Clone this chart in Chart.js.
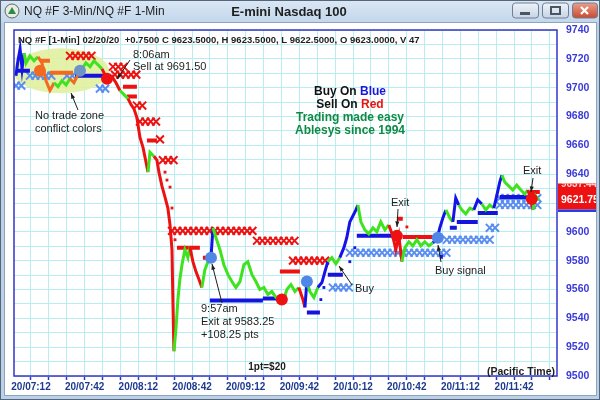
<!DOCTYPE html>
<html>
<head>
<meta charset="utf-8">
<script src="https://cdn.jsdelivr.net/npm/chart.js@4.4.1/dist/chart.umd.min.js"></script>
<style>
html, body { margin: 0; padding: 0; background: #fff; }
canvas { display: block; }
</style>
</head>
<body>
<canvas id="chart" width="600" height="400"></canvas>
<script>
// x = minutes after 07:12, y = price

// 1-min price path, colour code per point (b = blue, r = red, g = green, o = conflict)
const priceTime = [
  -8.4, -7.3, -6.1, -5.0, -3.9,
  -2.8, -0.6, 1.7, 3.9,
  6.1, 8.4, 10.6, 12.9,
  15.1, 17.3, 19.6, 21.8,
  24.0, 26.3,
  28.5, 30.7, 33.0, 35.2, 37.4, 39.7,
  41.3, 43.0, 45.3, 47.5, 49.7,
  52.0, 54.2,
  55.9, 57.5, 59.2, 60.9, 62.6, 64.3, 65.4,
  66.5, 68.7,
  70.4, 71.5, 73.2, 74.9, 76.5, 77.7, 78.8, 79.3, 79.9,
  81.0, 82.1, 83.2, 84.4, 86.0, 87.7, 88.8,
  90.5, 92.2, 93.9, 95.5,
  97.2, 98.9,
  100.6, 101.7,
  103.4, 105.6, 107.8, 110.1, 112.3, 114.5, 116.8, 119.0, 121.2, 123.5, 125.7, 127.9, 130.2, 132.4, 134.6, 136.9, 139.1,
  140.8,
  143.0, 145.3, 147.5, 149.7,
  152.0, 153.1,
  154.2,
  155.9, 158.1, 160.3,
  162.6, 164.3, 165.9,
  168.2, 170.4, 172.6,
  174.9, 176.5, 178.2, 179.9, 181.6, 182.7,
  184.4, 186.6, 188.8, 191.1, 193.3, 195.5, 197.8, 200.0,
  202.2, 203.9, 205.6, 207.3,
  209.0, 211.2, 213.4, 215.7, 217.9, 220.1, 222.4, 224.6,
  226.8, 228.5, 230.2, 231.9,
  234.1, 235.8,
  237.4, 239.1,
  240.8, 243.0, 245.3, 247.5,
  249.7, 252.0,
  254.2, 256.4, 258.7,
  260.4, 262.0, 263.2,
  264.8, 267.1, 269.3, 271.5, 273.8, 276.0, 277.7,
  279.3, 280.5,
  282.1, 283.8
];
const priceValue = [
  9708.3, 9718.6, 9726.9, 9713.0, 9724.0,
  9717.0, 9722.0, 9718.6, 9721.4,
  9717.2, 9704.8, 9698.0, 9703.4,
  9700.7, 9704.8, 9702.0, 9706.2,
  9703.4, 9709.0,
  9713.0, 9717.2, 9714.5, 9718.6, 9715.9, 9713.0,
  9709.0, 9704.8, 9707.6, 9703.4, 9698.0,
  9695.2, 9692.4,
  9688.3, 9685.5, 9679.3, 9665.5, 9658.6, 9648.3, 9641.4,
  9655.2, 9652.4,
  9649.7, 9641.4, 9631.7, 9624.1, 9616.5, 9604.8, 9587.6, 9553.0, 9517.2,
  9532.4, 9553.0, 9566.9, 9577.2, 9587.6, 9582.1, 9589.6,
  9579.3, 9572.4, 9566.9, 9561.4,
  9573.8, 9579.3,
  9582.1, 9602.8,
  9595.9, 9587.6, 9577.2, 9570.3, 9565.5, 9561.4, 9565.5, 9577.2, 9579.3, 9570.3, 9565.5, 9560.0, 9561.4, 9556.5, 9558.6, 9554.5, 9553.0,
  9551.0,
  9560.0, 9563.4, 9558.6, 9561.4,
  9553.0, 9547.6,
  9565.5,
  9558.6, 9554.5, 9561.4,
  9564.8, 9572.4, 9579.3,
  9582.1, 9577.9, 9582.1,
  9589.0, 9595.9, 9606.9, 9611.0, 9615.2, 9618.6,
  9606.9, 9601.4, 9598.6, 9602.8, 9600.0, 9606.9, 9601.4, 9604.8,
  9597.2, 9587.6, 9597.2, 9579.3,
  9589.0, 9593.1, 9590.3, 9594.5, 9590.3, 9593.1, 9590.3, 9592.4,
  9594.5, 9602.8, 9609.6, 9615.2,
  9609.6, 9606.9,
  9623.4, 9618.6,
  9615.2, 9612.4, 9616.5, 9615.2,
  9622.1, 9619.3,
  9615.2, 9618.6, 9616.5,
  9625.5, 9634.5, 9639.3,
  9634.5, 9631.7, 9629.0, 9632.4, 9629.0, 9626.2, 9629.0,
  9623.4, 9615.2,
  9624.8, 9622.1
];
const priceColor = ('bbbbb gggg oooo gggg oo gggggg rrrrr gg rrrrrrr gg rrrrrrrrr ggggggg rrrr gg bb ' +
  'ggggggggggggggggg r gggg rr b ggg bbb ggg bbbbbb gggggggg rrrr gggggggg bbbb gg bb gggg bb ggg bbb ggggggg rr gg')
  .replace(/ /g, '').split('');

// stop levels drawn as X rows (3-min bars): [from, to, level]
const sellStopRows = [
  [21.8, 34.6, 9722.1], [45.8, 52.5, 9714.5], [46.9, 59.2, 9709.0], [59.2, 62.6, 9687.6],
  [60.9, 72.1, 9676.5], [72.1, 72.1, 9664.1], [73.7, 81.6, 9649.7], [78.8, 126.3, 9600.7],
  [126.3, 149.2, 9593.8], [146.4, 167.1, 9580.0]
];
const buyStopRows = [
  [-8.4, -3.9, 9701.4], [-0.6, 12.3, 9708.3], [20.1, 23.5, 9708.3], [38.5, 44.1, 9699.3],
  [168.7, 179.3, 9561.4], [178.2, 232.4, 9585.5], [232.4, 256.4, 9594.5], [256.4, 262.0, 9602.8],
  [262.0, 284.4, 9623.4], [262.0, 284.4, 9618.6]
];

// trailing stop dashes: [from, to, level]
const sellLines = [
  [51.4, 59.2, 9700.7], [53.6, 59.2, 9693.8], [64.8, 70.4, 9663.4], [81.6, 94.4, 9588.9],
  [96.1, 98.3, 9582.1], [139.1, 150.3, 9572.4], [204.5, 207.8, 9609.0], [207.8, 224.6, 9596.5],
  [278.8, 284.4, 9627.6]
];
const buyLines = [
  [-7.8, -0.6, 9711.7], [24.6, 42.5, 9708.3], [100.0, 129.6, 9552.4], [129.6, 139.1, 9553.8],
  [154.2, 161.5, 9544.1], [165.9, 174.3, 9570.3], [182.1, 204.5, 9597.2], [228.5, 230.2, 9582.7],
  [234.1, 238.0, 9602.8], [238.0, 249.7, 9606.9], [249.7, 260.9, 9613.1], [262.0, 277.1, 9624.1]
];
const conflictLines = [[5.0, 10.6, 9718.6], [10.6, 23.5, 9710.3]];

const sellDots = [[74.9, 9641.4], [76.0, 9635.9], [77.7, 9631.0], [78.8, 9616.5], [80.5, 9594.5], [210.1, 9603.4]];
const buyDots = [[162.0, 9553.0], [163.7, 9561.4], [178.2, 9579.3], [181.0, 9589.0]];

// signal circles
const signalTime = [5.0, 27.4, 42.5, 100.6, 140.2, 154.2, 204.5, 227.4, 279.9];
const signalPrice = [9711.7, 9711.7, 9706.2, 9582.1, 9553.0, 9565.5, 9597.2, 9595.9, 9622.8];
const signalColor = ['#f26a22', '#6d93c8', '#ee1111', '#4f86e8', '#ee1111', '#4f86e8', '#ee1111', '#4f86e8', '#ee1111'];

const lastPrice = 9621.75;
const prevPriceLabel = '9637.44';

const COLORS = { b: '#1414e6', r: '#ee1111', g: '#3ee21e', o: '#f26a22' };

function rowPoints(rows, step) {
  const pts = [];
  rows.forEach(([from, to, level]) => {
    for (let t = from; t <= to + 0.01; t += step) pts.push({ x: t, y: level });
  });
  return pts;
}

function dashPoints(rows) {
  const pts = [];
  rows.forEach(([from, to, level]) => {
    pts.push({ x: from, y: level }, { x: to, y: level }, { x: to, y: null });
  });
  return pts;
}

function dashSet(rows, color) {
  return {
    data: dashPoints(rows), borderColor: color, borderWidth: 4, pointRadius: 0,
    spanGaps: false, borderCapStyle: 'butt'
  };
}

function dotSet(list, color) {
  return {
    data: list.map(([x, y]) => ({ x, y })), showLine: false, pointStyle: 'rect',
    pointRadius: 2, backgroundColor: color, borderColor: color, borderWidth: 0
  };
}

function xRowSet(rows, color) {
  return {
    data: rowPoints(rows, 3), showLine: false, pointStyle: 'crossRot',
    pointRadius: 5.5, borderColor: color, borderWidth: 2
  };
}

const datasets = [
  {
    data: signalTime.map((t, i) => ({ x: t, y: signalPrice[i] })), showLine: false,
    pointRadius: 6, pointBackgroundColor: signalColor, pointBorderWidth: 0
  },
  {
    data: priceTime.map((t, i) => ({ x: t, y: priceValue[i] })),
    borderWidth: 3, pointRadius: 0, tension: 0,
    segment: { borderColor: ctx => COLORS[priceColor[ctx.p1DataIndex]] }
  },
  dotSet(sellDots, '#ee1111'),
  dotSet(buyDots, '#1414e6'),
  dashSet(buyLines, '#1414dc'),
  dashSet(sellLines, '#ee1111'),
  dashSet(conflictLines, '#f26a22'),
  xRowSet(sellStopRows, '#ee1111'),
  xRowSet(buyStopRows, '#5a8df0')
];

function fmtTime(v) {
  const m = 432 + Math.round(v);
  return '20/' + String(Math.floor(m / 60)).padStart(2, '0') + ':' + String(m % 60).padStart(2, '0');
}

const chromePlugin = {
  id: 'chrome',
  beforeDraw(chart) {
    const ctx = chart.ctx;
    ctx.save();
    ctx.fillStyle = '#bcd0e8';
    ctx.fillRect(0, 0, 600, 400);
    const g = ctx.createLinearGradient(0, 0, 0, 23);
    g.addColorStop(0, '#dbe7f4');
    g.addColorStop(1, '#c2d6ec');
    ctx.fillStyle = g;
    ctx.fillRect(0, 0, 600, 23);
    ctx.strokeStyle = '#55657a';
    ctx.lineWidth = 1;
    ctx.strokeRect(0.5, 0.5, 599, 399);
    ctx.fillStyle = '#ffffff';
    ctx.fillRect(5, 23, 591, 372);
    ctx.strokeStyle = '#8fa5bf';
    ctx.strokeRect(4.5, 22.5, 592, 373);

    // title bar icon
    ctx.beginPath();
    ctx.arc(12, 11, 7, 0, Math.PI * 2);
    ctx.fillStyle = '#e8ece8';
    ctx.fill();
    ctx.strokeStyle = '#5a6a5a';
    ctx.stroke();
    ctx.beginPath();
    ctx.moveTo(12, 7); ctx.lineTo(16, 14); ctx.lineTo(8, 14); ctx.closePath();
    ctx.fillStyle = '#2e8b3e';
    ctx.fill();

    ctx.fillStyle = '#1e1e1e';
    ctx.font = "12px 'Liberation Sans', sans-serif";
    ctx.textBaseline = 'middle';
    ctx.fillText('NQ #F 3-Min/NQ #F 1-Min', 24, 12);
    ctx.font = "bold 13px 'Liberation Sans', sans-serif";
    ctx.textAlign = 'center';
    ctx.fillText('E-mini Nasdaq 100', 289, 12);

    // window buttons
    const btn = (x, w, top, bottom) => {
      const bg = ctx.createLinearGradient(0, 3, 0, 19);
      bg.addColorStop(0, top);
      bg.addColorStop(1, bottom);
      ctx.fillStyle = bg;
      ctx.beginPath();
      ctx.roundRect(x, 3, w, 15, 3);
      ctx.fill();
      ctx.strokeStyle = '#6f7f93';
      ctx.stroke();
    };
    btn(512.5, 26, '#eef3f9', '#c4d2e3');
    btn(542.5, 26, '#eef3f9', '#c4d2e3');
    btn(572.5, 25, '#e8a08c', '#c8432a');
    ctx.fillStyle = '#4a5563';
    ctx.fillRect(520, 12, 10, 3);
    ctx.strokeStyle = '#4a5563';
    ctx.lineWidth = 2;
    ctx.strokeRect(551, 7, 9, 7);
    ctx.strokeStyle = '#ffffff';
    ctx.lineWidth = 2.2;
    ctx.beginPath();
    ctx.moveTo(581, 7); ctx.lineTo(588, 14);
    ctx.moveTo(588, 7); ctx.lineTo(581, 14);
    ctx.stroke();
    ctx.restore();
  }
};

const zonePlugin = {
  id: 'zone',
  beforeDatasetsDraw(chart) {
    const { ctx, scales: { x, y } } = chart;
    const cx = x.getPixelForValue(16.8), cy = y.getPixelForValue(9711.7);
    const rx = x.getPixelForValue(16.8 + 26.8) - cx;
    const ry = y.getPixelForValue(9711.7 - 15.6) - cy;
    ctx.save();
    ctx.beginPath();
    ctx.ellipse(cx, cy, rx, ry, 0, 0, Math.PI * 2);
    ctx.fillStyle = 'rgba(224, 239, 160, 0.9)';
    ctx.fill();
    ctx.restore();
  }
};

const notes = [
  ['8:06am', 133, 55], ['Sell at 9691.50', 133, 67],
  ['No trade zone', 35, 116], ['conflict colors', 35, 129],
  ['9:57am', 201, 309], ['Exit at 9583.25', 201, 322], ['+108.25 pts', 201, 335],
  ['Buy', 355, 289], ['Exit', 391, 203], ['Buy signal', 435, 271], ['Exit', 523, 171]
];
const arrows = [
  [130, 60, 117, 79], [78, 110, 71, 93], [222, 303, 212, 264], [352, 285, 339, 266],
  [398, 209, 397, 227], [441, 262, 438, 245], [533, 178, 531, 192]
];

function drawArrow(ctx, x1, y1, x2, y2) {
  const a = Math.atan2(y2 - y1, x2 - x1);
  ctx.beginPath();
  ctx.moveTo(x1, y1);
  ctx.lineTo(x2, y2);
  ctx.stroke();
  ctx.beginPath();
  ctx.moveTo(x2, y2);
  ctx.lineTo(x2 - 6 * Math.cos(a - 0.35), y2 - 6 * Math.sin(a - 0.35));
  ctx.lineTo(x2 - 6 * Math.cos(a + 0.35), y2 - 6 * Math.sin(a + 0.35));
  ctx.closePath();
  ctx.fill();
}

const overlayPlugin = {
  id: 'overlay',
  afterDraw(chart) {
    const { ctx, chartArea: ca, scales } = chart;
    ctx.save();
    ctx.strokeStyle = '#3434c8';
    ctx.lineWidth = 1.5;
    ctx.strokeRect(ca.left, ca.top, ca.right - ca.left, ca.bottom - ca.top);

    ctx.textBaseline = 'middle';
    ctx.fillStyle = '#1e1e1e';
    ctx.font = "bold 9.5px 'Liberation Sans', sans-serif";
    ctx.fillText('NQ #F [1-Min] 02/20/20  +0.7500 C 9623.5000, H 9623.5000, L 9622.5000, O 9623.0000, V 47', 18, 40);

    ctx.font = "11px 'Liberation Sans', sans-serif";
    notes.forEach(([s, x, y]) => ctx.fillText(s, x, y));
    ctx.strokeStyle = '#1e1e1e';
    ctx.lineWidth = 1;
    arrows.forEach(a => drawArrow(ctx, ...a));

    // slogan block
    const cx = 350;
    ctx.font = "bold 12px 'Liberation Sans', sans-serif";
    const pair = (a, b, colB, y) => {
      const wa = ctx.measureText(a).width, wb = ctx.measureText(b).width;
      const x0 = cx - (wa + wb) / 2;
      ctx.fillStyle = '#111111';
      ctx.fillText(a, x0, y);
      ctx.fillStyle = colB;
      ctx.fillText(b, x0 + wa, y);
    };
    pair('Buy On ', 'Blue', '#1616e0', 92);
    pair('Sell On ', 'Red', '#ee1111', 105);
    ctx.textAlign = 'center';
    ctx.fillStyle = '#0e8a45';
    ctx.fillText('Trading made easy', cx, 118);
    ctx.fillText('Ablesys since 1994', cx, 131);

    ctx.fillStyle = '#1e1e1e';
    ctx.font = "bold 10px 'Liberation Sans', sans-serif";
    ctx.fillText('1pt=$20', 267, 367);
    ctx.textAlign = 'right';
    ctx.font = "bold 10.5px 'Liberation Sans', sans-serif";
    ctx.fillText('(Pacific Time)', 555, 372);

    // last price box on the axis
    const py = scales.y.getPixelForValue(lastPrice);
    ctx.fillStyle = '#ee1111';
    ctx.fillRect(558, py - 17, 38, 26);
    ctx.fillStyle = '#2a3ce0';
    ctx.fillRect(558, py + 9, 38, 2.5);
    ctx.beginPath();
    ctx.rect(558, py - 17, 38, 26);
    ctx.clip();
    ctx.textAlign = 'left';
    ctx.fillStyle = '#ffd0d0';
    ctx.font = "bold 10px 'Liberation Sans', sans-serif";
    ctx.fillText(prevPriceLabel, 561, py - 16);
    ctx.fillStyle = '#ffffff';
    ctx.font = "bold 10.5px 'Liberation Sans', sans-serif";
    ctx.fillText(lastPrice.toFixed(2), 561, py);
    ctx.restore();
  }
};

Chart.defaults.font.family = "'Liberation Sans', Arial, sans-serif";

new Chart(document.getElementById('chart'), {
  type: 'line',
  data: { datasets },
  options: {
    responsive: false,
    animation: false,
    events: [],
    layout: { padding: { left: 14, top: 30, right: 0, bottom: 0 } },
    plugins: { legend: { display: false }, tooltip: { enabled: false } },
    scales: {
      x: {
        type: 'linear', min: -9.5, max: 294,
        afterFit: s => { s.height = 24; },
        border: { display: false },
        grid: { color: '#b6eef2', lineWidth: 1, drawTicks: true, tickLength: 4, tickColor: '#3434c8', tickWidth: 1.5 },
        ticks: {
          stepSize: 10, autoSkip: false, maxRotation: 0, includeBounds: false, padding: 1,
          color: '#1d3a8f', font: { size: 10, weight: 'bold' },
          callback: v => (Math.abs(v % 30) < 0.01 ? fmtTime(v) : '')
        }
      },
      y: {
        position: 'right', min: 9500, max: 9740,
        afterFit: s => { s.width = 43; },
        border: { display: false },
        grid: { color: '#b6eef2', lineWidth: 1, drawTicks: false },
        ticks: {
          stepSize: 10, autoSkip: false, padding: 9,
          color: '#3a3ad8', font: { size: 10.5, weight: 'bold' },
          callback: v => (v % 20 === 0 ? String(v) : '')
        }
      }
    }
  },
  plugins: [chromePlugin, zonePlugin, overlayPlugin]
});
</script>
</body>
</html>
